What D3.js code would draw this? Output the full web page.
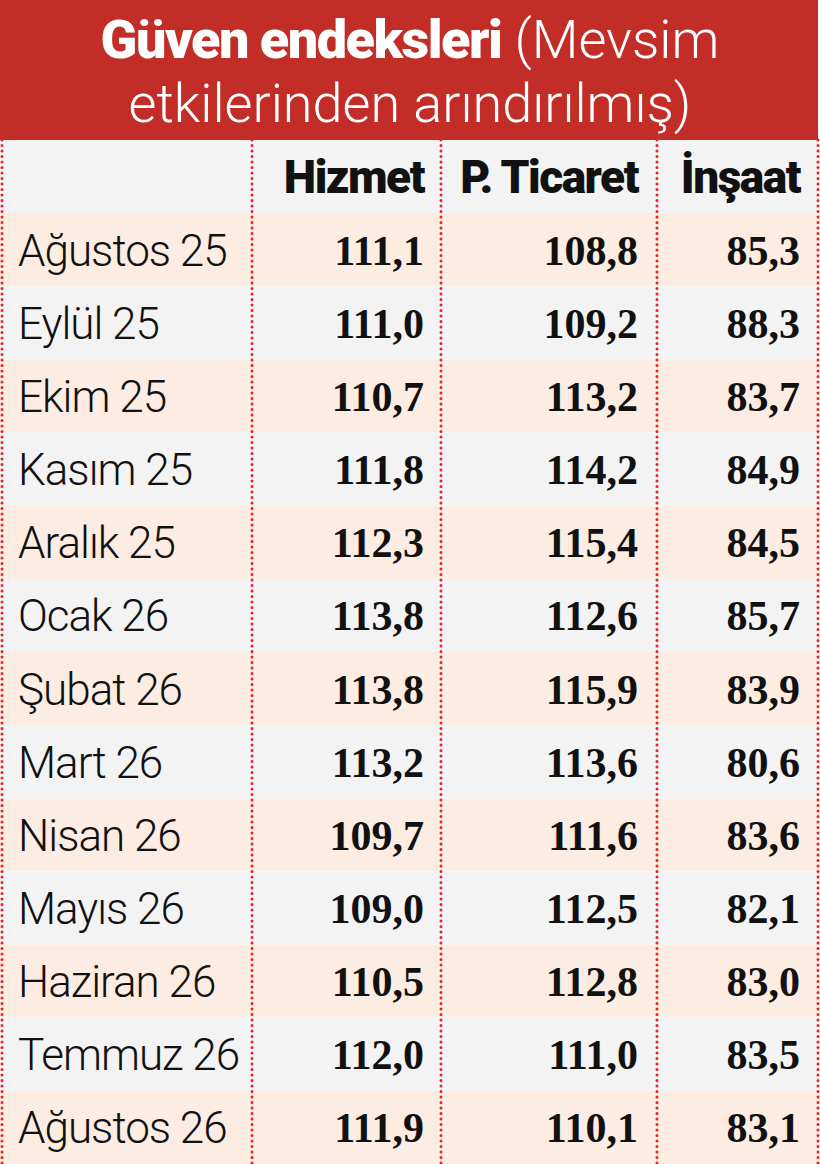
<!DOCTYPE html>
<html><head><meta charset="utf-8">
<script src="https://cdn.jsdelivr.net/npm/d3@7"></script>
<style>body{margin:0;background:#fff}</style>
</head><body><svg id="chart" width="820" height="1164"></svg>
<script>
const months = ["Ağustos 25","Eylül 25","Ekim 25","Kasım 25","Aralık 25","Ocak 26","Şubat 26","Mart 26","Nisan 26","Mayıs 26","Haziran 26","Temmuz 26","Ağustos 26"];
const columns = ["Hizmet","P. Ticaret","İnşaat"];
const hizmet = [111.1,111.0,110.7,111.8,112.3,113.8,113.8,113.2,109.7,109.0,110.5,112.0,111.9];
const ticaret = [108.8,109.2,113.2,114.2,115.4,112.6,115.9,113.6,111.6,112.5,112.8,111.0,110.1];
const insaat = [85.3,88.3,83.7,84.9,84.5,85.7,83.9,80.6,83.6,82.1,83.0,83.5,83.1];

const series = [hizmet, ticaret, insaat];
const fmt = v => v.toFixed(1).replace(".", ",");
const svg = d3.select("#chart");
const red = "#c22d27";

// header band
svg.append("rect").attr("x", 0).attr("y", 0).attr("width", 818).attr("height", 140).attr("fill", red);
const t1 = svg.append("text").attr("x", 410).attr("y", 58).attr("text-anchor", "middle")
  .attr("fill", "#fff").style("font-family", "Roboto").style("font-size", "54px");
t1.append("tspan").text("Güven endeksleri").style("font-weight", 900).attr("letter-spacing", -1.5);
t1.append("tspan").text(" (Mevsim").style("font-weight", 300);
svg.append("text").attr("x", 410).attr("y", 122).attr("text-anchor", "middle")
  .attr("fill", "#fff").style("font-family", "Roboto").style("font-weight", 300)
  .style("font-size", "54px").text("etkilerinden arındırılmış)");

// rows
const y = d3.scaleBand().domain(d3.range(-1, months.length)).range([140, 1164]);
svg.selectAll("rect.row").data(d3.range(-1, months.length)).join("rect")
  .attr("class", "row").attr("x", 0).attr("width", 820)
  .attr("y", d => y(d)).attr("height", y.bandwidth())
  .attr("fill", d => d % 2 === 0 ? "#fcece1" : "#f3f3f3");

// column lines
const lines = [2, 252, 441, 657, 818];
svg.selectAll("line.col").data(lines).join("line").attr("class", "col")
  .attr("x1", d => d).attr("x2", d => d).attr("y1", 140).attr("y2", 1164)
  .attr("stroke", "#e0262a").attr("stroke-width", 3)
  .attr("stroke-dasharray", "0.1 5.4").attr("stroke-linecap", "round");

const rightX = [424, 638, 800];
svg.selectAll("text.head").data(columns).join("text").attr("class", "head")
  .attr("x", (d, i) => rightX[i]).attr("y", y(-1) + y.bandwidth() / 2 + 16)
  .attr("text-anchor", "end").style("font-family", "Roboto").style("font-weight", 900)
  .style("font-size", "46px").attr("letter-spacing", -1.5).attr("fill", "#111").text(d => d);

svg.selectAll("text.month").data(months).join("text").attr("class", "month")
  .attr("x", 18).attr("y", (d, i) => y(i) + y.bandwidth() / 2 + 16)
  .style("font-family", "Roboto").style("font-weight", 300).style("font-size", "44px")
  .attr("letter-spacing", -1).attr("fill", "#111").text(d => d);

series.forEach((s, c) => {
  svg.selectAll("text.v" + c).data(s).join("text").attr("class", "v" + c)
    .attr("x", rightX[c]).attr("y", (d, i) => y(i) + y.bandwidth() / 2 + 15)
    .attr("text-anchor", "end").style("font-family", "Liberation Serif").style("font-weight", 700)
    .style("font-size", "42px").attr("fill", "#111").text(fmt);
});
</script></body></html>
